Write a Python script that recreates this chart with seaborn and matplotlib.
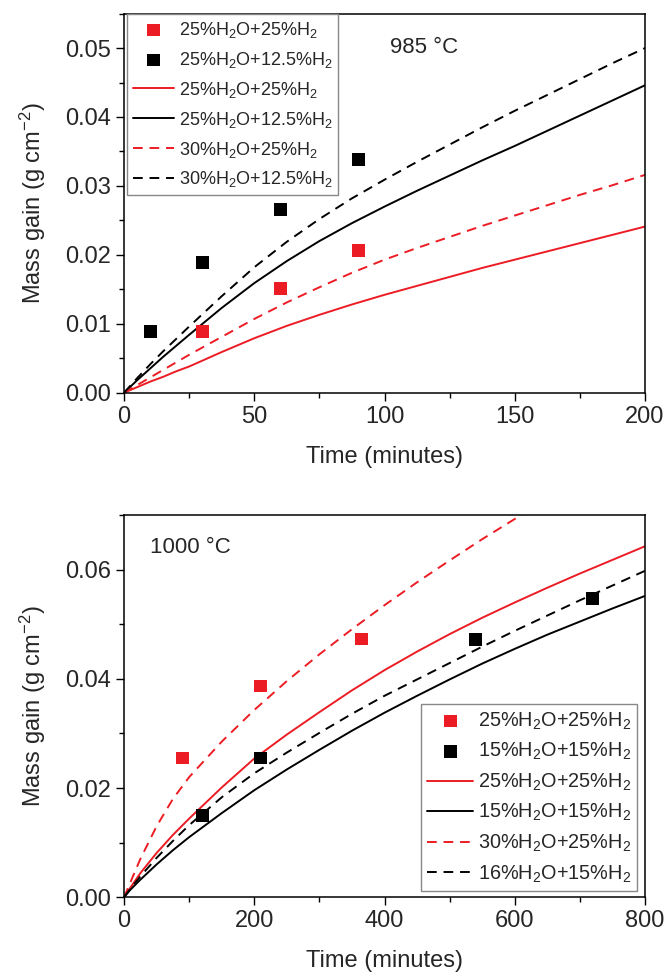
import numpy as np
import pandas as pd
import matplotlib
matplotlib.use("Agg")
import matplotlib.pyplot as plt
from matplotlib.ticker import MultipleLocator, FormatStrFormatter
import seaborn as sns

# ---- 985 C panel ----
t985_pts_red = [30, 60, 90]
m985_pts_red = [0.0089, 0.0151, 0.0206]
t985_pts_blk = [10, 30, 60, 90]
m985_pts_blk = [0.0089, 0.0189, 0.0266, 0.0338]

t985_fit = [0, 5, 10, 15, 20, 25, 37.5, 50, 62.5, 75, 87.5, 100, 112.5, 125, 137.5, 150, 162.5, 175, 187.5, 200]
m985_red_solid = [0, 0.0008, 0.0016, 0.0023, 0.0031, 0.0038, 0.0059, 0.0079, 0.0097, 0.0113, 0.0128,
                  0.0142, 0.0155, 0.0168, 0.0181, 0.0193, 0.0205, 0.0217, 0.0229, 0.0241]
m985_blk_solid = [0, 0.0018, 0.0035, 0.0052, 0.0068, 0.0084, 0.0123, 0.0159, 0.0191, 0.0220, 0.0246,
                  0.0270, 0.0293, 0.0315, 0.0337, 0.0358, 0.0380, 0.0402, 0.0424, 0.0446]
m985_red_dash = [0, 0.0011, 0.0022, 0.0033, 0.0044, 0.0055, 0.0081, 0.0107, 0.0131, 0.0153, 0.0174,
                 0.0193, 0.0210, 0.0226, 0.0242, 0.0257, 0.0272, 0.0287, 0.0301, 0.0316]
m985_blk_dash = [0, 0.0021, 0.0041, 0.0060, 0.0078, 0.0096, 0.0140, 0.0182, 0.0219, 0.0252, 0.0282,
                 0.0309, 0.0335, 0.0360, 0.0385, 0.0409, 0.0432, 0.0455, 0.0478, 0.0500]

# ---- 1000 C panel ----
t1000_pts_red = [90, 210, 365]
m1000_pts_red = [0.0255, 0.0387, 0.0473]
t1000_pts_blk = [120, 210, 540, 720]
m1000_pts_blk = [0.0149, 0.0255, 0.0472, 0.0547]

t1000_fit = [0, 5, 10, 25, 50, 75, 100, 150, 200, 250, 300, 350, 400, 450, 500, 550, 600, 650, 700, 750, 800]
m1000_red_solid = [0, 0.0009, 0.0018, 0.0044, 0.0081, 0.0114, 0.0144, 0.0201, 0.0254, 0.0298, 0.0339,
                   0.0379, 0.0416, 0.0450, 0.0482, 0.0512, 0.0540, 0.0567, 0.0593, 0.0618, 0.0643]
m1000_blk_solid = [0, 0.0007, 0.0014, 0.0032, 0.0060, 0.0086, 0.0110, 0.0154, 0.0196, 0.0234, 0.0270,
                   0.0305, 0.0338, 0.0369, 0.0399, 0.0428, 0.0455, 0.0481, 0.0505, 0.0529, 0.0552]
m1000_red_dash = [0, 0.0014, 0.0028, 0.0070, 0.0130, 0.0180, 0.0220, 0.0285, 0.0343, 0.0396, 0.0445,
                  0.0491, 0.0535, 0.0577, 0.0617, 0.0656, 0.0693, 0.0730, 0.0766, 0.0800, 0.0834]
m1000_blk_dash = [0, 0.0008, 0.0016, 0.0038, 0.0072, 0.0103, 0.0132, 0.0183, 0.0227, 0.0265, 0.0301,
                  0.0336, 0.0369, 0.0399, 0.0429, 0.0459, 0.0488, 0.0516, 0.0544, 0.0571, 0.0598]

lab_985 = ["25%H$_2$O+25%H$_2$", "25%H$_2$O+12.5%H$_2$", "30%H$_2$O+25%H$_2$", "30%H$_2$O+12.5%H$_2$"]
lab_1000 = ["25%H$_2$O+25%H$_2$", "15%H$_2$O+15%H$_2$", "30%H$_2$O+25%H$_2$", "16%H$_2$O+15%H$_2$"]

RED = "#ec1c24"
BLK = "#000000"

sns.set_style("white")
plt.rcParams["font.family"] = ["Liberation Sans", "DejaVu Sans"]
plt.rcParams["mathtext.fontset"] = "custom"
plt.rcParams["mathtext.rm"] = "Liberation Sans"
plt.rcParams["mathtext.it"] = "Liberation Sans:italic"
plt.rcParams["mathtext.bf"] = "Liberation Sans:bold"

fig = plt.figure(figsize=(6.67, 9.72), dpi=100)
ax1 = fig.add_axes([0.186, 0.596, 0.781, 0.390])
ax2 = fig.add_axes([0.186, 0.077, 0.781, 0.393])

dash = (0, (5, 3.5))


def draw(ax, tr, mr, tb, mb, tf, rs, bs, rd, bd, labels):
    sns.scatterplot(x=tr, y=mr, ax=ax, marker="s", s=85, color=RED, edgecolor="none",
                    label=labels[0], zorder=4)
    sns.scatterplot(x=tb, y=mb, ax=ax, marker="s", s=85, color=BLK, edgecolor="none",
                    label=labels[1], zorder=4)
    sns.lineplot(x=tf, y=rs, ax=ax, color=RED, lw=1.4, label=labels[0])
    sns.lineplot(x=tf, y=bs, ax=ax, color=BLK, lw=1.4, label=labels[1])
    sns.lineplot(x=tf, y=rd, ax=ax, color=RED, lw=1.4, linestyle=dash, label=labels[2])
    sns.lineplot(x=tf, y=bd, ax=ax, color=BLK, lw=1.4, linestyle=dash, label=labels[3])


draw(ax1, t985_pts_red, m985_pts_red, t985_pts_blk, m985_pts_blk, t985_fit,
     m985_red_solid, m985_blk_solid, m985_red_dash, m985_blk_dash, lab_985)
draw(ax2, t1000_pts_red, m1000_pts_red, t1000_pts_blk, m1000_pts_blk, t1000_fit,
     m1000_red_solid, m1000_blk_solid, m1000_red_dash, m1000_blk_dash, lab_1000)

ax1.set_xlim(0, 200)
ax1.set_ylim(0, 0.055)
ax1.xaxis.set_major_locator(MultipleLocator(50))
ax1.xaxis.set_minor_locator(MultipleLocator(25))
ax1.yaxis.set_major_locator(MultipleLocator(0.01))
ax1.yaxis.set_minor_locator(MultipleLocator(0.005))

ax2.set_xlim(0, 800)
ax2.set_ylim(0, 0.07)
ax2.xaxis.set_major_locator(MultipleLocator(200))
ax2.xaxis.set_minor_locator(MultipleLocator(100))
ax2.yaxis.set_major_locator(MultipleLocator(0.02))
ax2.yaxis.set_minor_locator(MultipleLocator(0.01))

for ax in (ax1, ax2):
    ax.yaxis.set_major_formatter(FormatStrFormatter("%.2f"))
    ax.set_xlabel("Time (minutes)", fontsize=17, labelpad=13)
    ax.set_ylabel("Mass gain (g cm$^{-2}$)", fontsize=17, labelpad=12)
    ax.tick_params(which="both", direction="out", bottom=True, left=True, top=False, right=False,
                   width=1.0, color="black")
    ax.tick_params(which="major", length=6, labelsize=17)
    ax.tick_params(which="minor", length=3.5)
    for sp in ax.spines.values():
        sp.set_visible(True)
        sp.set_color("black")
        sp.set_linewidth(1.1)

leg_kw = dict(frameon=True, fancybox=False, edgecolor="#888888", framealpha=1,
              handlelength=2.3, handletextpad=0.25, borderpad=0.3,
              borderaxespad=0, markerscale=1.0)
ax1.legend(loc="upper left", bbox_to_anchor=(0.006, 0.998), fontsize=13, labelspacing=0.55, **leg_kw)
ax2.legend(loc="lower right", bbox_to_anchor=(0.985, 0.017), fontsize=14.3, labelspacing=0.47, **leg_kw)
for leg in (ax1.get_legend(), ax2.get_legend()):
    leg.get_frame().set_linewidth(1.0)

ax1.text(0.51, 0.91, "985 °C", transform=ax1.transAxes, fontsize=16, va="center", ha="left")
ax2.text(0.05, 0.915, "1000 °C", transform=ax2.transAxes, fontsize=16, va="center", ha="left")

fig.savefig("out.png", dpi=100)
